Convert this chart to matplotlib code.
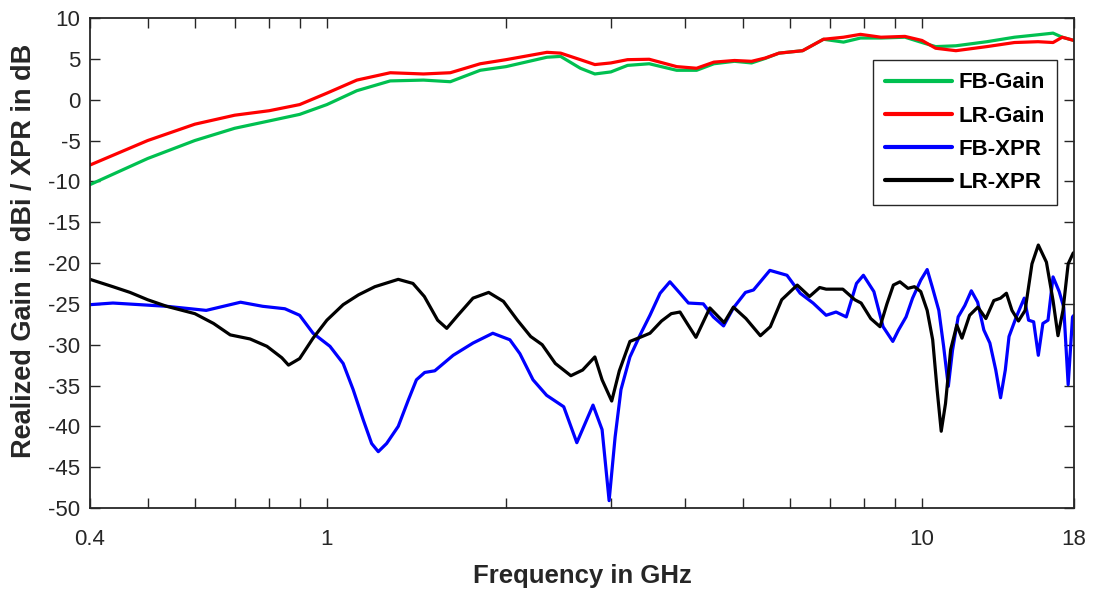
import numpy as np
import matplotlib
matplotlib.use('Agg')
import matplotlib.pyplot as plt
from matplotlib import font_manager
from matplotlib.ticker import FixedLocator, NullFormatter, FixedFormatter

# Gain curves (frequency in GHz, value in dBi)
gainFreq = [0.4, 0.5, 0.6, 0.7, 0.8, 0.9, 1.0, 1.123, 1.278, 1.453, 1.612, 1.81, 2.0,
            2.343, 2.47, 2.666, 2.82, 3.0, 3.2, 3.48, 3.87, 4.18, 4.47, 4.84, 5.17, 5.45,
            5.75, 6.3, 6.83, 7.38, 7.88, 8.53, 9.36, 10.0, 10.54, 11.4, 12.85, 14.3,
            15.66, 16.6, 17.2, 18.0]
fbGain = [-10.4, -7.2, -5.0, -3.5, -2.6, -1.8, -0.6, 1.1, 2.3, 2.4, 2.2, 3.6, 4.05,
          5.2, 5.3, 3.85, 3.15, 3.4, 4.2, 4.4, 3.6, 3.6, 4.4, 4.7, 4.5, 5.05,
          5.7, 6.0, 7.4, 7.05, 7.55, 7.55, 7.65, 7.0, 6.5, 6.6, 7.1, 7.65,
          7.95, 8.15, 7.65, 7.25]
lrGain = [-8.0, -5.0, -3.0, -1.9, -1.35, -0.6, 0.8, 2.4, 3.3, 3.15, 3.3, 4.4, 4.9,
          5.8, 5.7, 4.9, 4.3, 4.5, 4.9, 4.95, 4.05, 3.85, 4.6, 4.8, 4.7, 5.1,
          5.7, 6.0, 7.4, 7.65, 8.0, 7.65, 7.75, 7.25, 6.3, 6.0, 6.5, 7.0,
          7.1, 7.0, 7.65, 7.25]

# FB-XPR (dB)
fbXprFreq = [0.4, 0.437, 0.538, 0.627, 0.716, 0.78, 0.85, 0.90, 0.948, 1.012, 1.065,
             1.107, 1.151, 1.189, 1.22, 1.26, 1.318, 1.37, 1.414, 1.46, 1.518, 1.63,
             1.76, 1.9, 2.03, 2.11, 2.22, 2.34, 2.5, 2.63, 2.80, 2.9, 2.98, 3.05, 3.12,
             3.23, 3.36, 3.49, 3.63, 3.77, 3.92, 4.05, 4.29, 4.46, 4.64, 4.82, 5.05,
             5.21, 5.55, 5.93, 6.24, 6.56, 6.9, 7.17, 7.46, 7.76, 7.97, 8.3, 8.6,
             8.93, 9.13, 9.4, 9.64, 9.95, 10.2, 10.4, 10.67, 10.87, 11.07, 11.25, 11.5,
             11.8, 12.1, 12.4, 12.7, 13.0, 13.3, 13.55, 13.8, 14.0, 14.4, 14.85, 15.1,
             15.4, 15.68, 15.96, 16.28, 16.6, 17.0, 17.3, 17.6, 17.9, 18.0]
fbXpr = [-25.1, -24.9, -25.3, -25.8, -24.8, -25.3, -25.6, -26.4, -28.6, -30.2, -32.3,
         -35.5, -39.2, -42.1, -43.1, -42.1, -40.0, -36.8, -34.3, -33.4, -33.2, -31.3,
         -29.8, -28.6, -29.4, -31.1, -34.3, -36.2, -37.6, -42.0, -37.4, -40.4, -49.1, -41.3, -35.5,
         -31.5, -28.8, -26.4, -23.7, -22.3, -23.7, -24.9, -25.0, -26.6, -27.7, -25.5, -23.6,
         -23.3, -20.9, -21.5, -23.7, -24.9, -26.4, -26.0, -26.6, -22.5, -21.5, -23.5, -27.8,
         -29.6, -28.2, -26.6, -24.3, -22.1, -20.8, -22.9, -25.8, -30.2, -35.1, -30.7, -26.6,
         -25.2, -23.4, -24.8, -28.2, -29.8, -33.1, -36.5, -33.1, -29.0, -26.6, -24.3, -27.0,
         -27.2, -31.3, -27.4, -27.0, -21.7, -23.5, -25.4, -34.9, -26.6, -26.4]

# LR-XPR (dB)
lrXprFreq = [0.4, 0.437, 0.467, 0.5, 0.538, 0.6, 0.645, 0.688, 0.743, 0.793, 0.84, 0.862,
             0.90, 0.948, 1.0, 1.065, 1.13, 1.204, 1.318, 1.395, 1.458, 1.535, 1.59, 1.66,
             1.76, 1.87, 1.98, 2.09, 2.2, 2.3, 2.42, 2.57, 2.69, 2.82, 2.9, 3.01, 3.1,
             3.23, 3.36, 3.49, 3.65, 3.79, 3.92, 4.03, 4.17, 4.4, 4.65, 4.82, 5.06, 5.35,
             5.56, 5.81, 6.17, 6.47, 6.73, 6.9, 7.36, 7.71, 7.9, 8.2, 8.5, 8.73, 8.95,
             9.18, 9.47, 9.71, 9.95, 10.2, 10.42, 10.6, 10.77, 10.95, 11.17, 11.44, 11.67,
             12.02, 12.41, 12.8, 13.2, 13.55, 13.86, 14.16, 14.52, 14.9, 15.3, 15.68,
             16.18, 16.6, 16.92, 17.25, 17.6, 17.94, 18.0]
lrXpr = [-22.0, -22.9, -23.6, -24.5, -25.3, -26.2, -27.4, -28.8, -29.3, -30.2, -31.6, -32.5,
         -31.7, -29.2, -27.0, -25.1, -23.9, -22.9, -22.0, -22.5, -24.1, -27.0, -28.0, -26.4,
         -24.3, -23.6, -24.7, -27.0, -29.0, -30.0, -32.3, -33.8, -33.1, -31.5, -34.3, -36.9, -33.2,
         -29.6, -29.1, -28.6, -27.1, -26.2, -26.0, -27.4, -29.1, -25.5, -27.3, -25.4, -26.8, -28.9,
         -27.8, -24.5, -22.7, -24.1, -23.0, -23.2, -23.2, -24.5, -24.9, -26.8, -27.8, -25.0, -22.7,
         -22.3, -23.1, -22.9, -23.5, -25.8, -29.4, -35.5, -40.6, -37.2, -30.6, -27.6, -29.2,
         -26.4, -25.4, -26.8, -24.6, -24.3, -23.7, -25.8, -27.1, -25.8, -20.1, -17.8,
         -19.9, -24.6, -28.9, -25.8, -20.1, -18.8, -18.7]

xTicks = [0.4, 1, 10, 18]
xTickLabels = ['0.4', '1', '10', '18']
xMinor = [0.5, 0.6, 0.7, 0.8, 0.9, 2, 3, 4, 5, 6, 7, 8, 9]
yTicks = list(range(-50, 11, 5))

installed = {f.name for f in font_manager.fontManager.ttflist}
tickFont = 'Liberation Sans Narrow' if 'Liberation Sans Narrow' in installed else 'Liberation Sans'
plt.rcParams['font.family'] = [tickFont, 'DejaVu Sans']
plt.rcParams['axes.unicode_minus'] = False

fig = plt.figure(figsize=(10.94, 5.89), dpi=100)
ax = fig.add_axes([0.0823, 0.1375, 0.8994, 0.8319])

lw = 2.3
style = dict(lw=lw, solid_joinstyle='round', solid_capstyle='round')
ax.plot(gainFreq, fbGain, color='#00c050', label='FB-Gain', **style)
ax.plot(gainFreq, lrGain, color='#ff0000', label='LR-Gain', **style)
ax.plot(fbXprFreq, fbXpr, color='#0000ff', label='FB-XPR', **style)
ax.plot(lrXprFreq, lrXpr, color='#000000', label='LR-XPR', **style)

ax.set_xscale('log')
ax.set_xlim(0.4, 18)
ax.set_ylim(-50, 10)
ax.xaxis.set_major_locator(FixedLocator(xTicks))
ax.xaxis.set_major_formatter(FixedFormatter(xTickLabels))
ax.xaxis.set_minor_locator(FixedLocator(xMinor))
ax.xaxis.set_minor_formatter(NullFormatter())
ax.set_yticks(yTicks)

ax.tick_params(which='both', direction='in', top=True, right=True, length=7,
               width=1.0, color='#262626', labelsize=16, labelcolor='#262626')
ax.tick_params(axis='x', pad=15)
ax.tick_params(axis='y', pad=7)
for s in ax.spines.values():
    s.set_color('#262626')
    s.set_linewidth(1.3)

labelFont = ['Liberation Sans', 'DejaVu Sans']
ax.set_xlabel('Frequency in GHz', fontsize=18.5, fontweight='bold',
              family=labelFont, color='#262626', labelpad=10)
ax.set_ylabel('Realized Gain in dBi / XPR in dB', fontsize=19.5, fontweight='bold',
              family=labelFont, color='#262626', labelpad=5)
ax.yaxis.set_label_coords(-0.054, 0.524)

leg = ax.legend(loc='upper right', bbox_to_anchor=(0.983, 0.914), borderaxespad=0,
                fancybox=False, edgecolor='#262626', framealpha=1,
                handlelength=3.0, handletextpad=0.3, borderpad=0.55, labelspacing=0.55,
                prop={'family': labelFont, 'weight': 'bold', 'size': 16})
leg.get_frame().set_linewidth(1.0)
for line in leg.get_lines():
    line.set_linewidth(3.0)

fig.savefig('out.png', dpi=100)
